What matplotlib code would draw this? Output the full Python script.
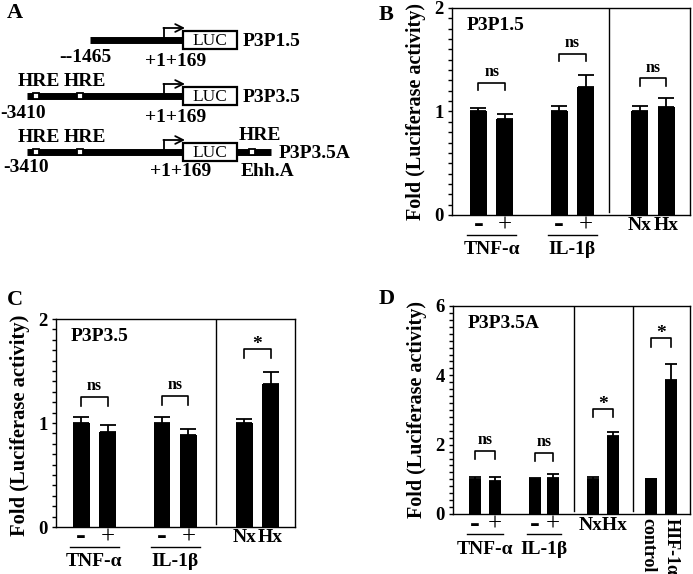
import matplotlib.pyplot as plt
from matplotlib.patches import Rectangle

plt.rcParams['font.family'] = ['Liberation Serif', 'DejaVu Serif']
plt.rcParams['font.weight'] = 'bold'

# ---- panel A: reporter constructs ----
constructs = ['P3P1.5', 'P3P3.5', 'P3P3.5A']
start_labels = ['--1465', '-3410', '-3410']
end_label = '+1+169'
n_hre = [0, 2, 2]

# ---- panel B: P3P1.5 ----
b_vals = [1.00, 0.93, 1.00, 1.24, 1.00, 1.04]
b_err = [0.03, 0.05, 0.05, 0.11, 0.05, 0.09]
b_sig = ['ns', 'ns', 'ns']
b_brk = [1.28, 1.56, 1.32]

# ---- panel C: P3P3.5 ----
c_vals = [1.00, 0.915, 1.00, 0.88, 1.00, 1.375]
c_err = [0.06, 0.065, 0.06, 0.06, 0.04, 0.115]
c_sig = ['ns', 'ns', '*']
c_brk = [1.25, 1.26, 1.71]

# ---- panel D: P3P3.5A ----
d_vals = [1.00, 0.96, 1.02, 1.05, 1.00, 2.26, 1.02, 3.87]
d_err = [0.06, 0.12, 0.02, 0.10, 0.06, 0.10, 0.0, 0.45]
d_sig = ['ns', 'ns', '*', '*']
d_brk = [1.83, 1.77, 3.03, 5.07]

treat_labels = ['-', '+']
groups = ['TNF-\u03b1', 'IL-1\u03b2']
hyp_labels = ['Nx', 'Hx']

W, H = 693, 574
fig = plt.figure(figsize=(W / 100, H / 100), dpi=100)


def px_axes(l, t, r, b):
    return fig.add_axes([l / W, 1 - b / H, (r - l) / W, (b - t) / H])


# panel A, drawn in pixel units
axA = px_axes(0, 0, 346, 200)
axA.set_xlim(0, 346)
axA.set_ylim(200, 0)
axA.axis('off')
row_y = [40, 96, 152]
line_start = [90, 27, 27]
name_x = [243, 243, 279]
box_l, box_r, tss = 183, 237, 164
for i, name in enumerate(constructs):
    y = row_y[i]
    axA.plot([line_start[i], box_l], [y, y], color='k', lw=5, solid_capstyle='butt', zorder=1)
    axA.add_patch(Rectangle((box_l, y - 9), box_r - box_l, 18, fc='white', ec='k', lw=1.6, zorder=3))
    axA.text((box_l + box_r) / 2, y + 1, 'LUC', ha='center', va='center', fontsize=12.5, fontweight='normal')
    axA.plot([tss, tss], [y - 3, y - 12], color='k', lw=1.3)
    axA.annotate('', xy=(box_l + 2, y - 12), xytext=(tss - 0.6, y - 12),
                 arrowprops=dict(arrowstyle='->', lw=1.3, color='k', shrinkA=0, shrinkB=0,
                                 mutation_scale=14))
    axA.text(name_x[i], y + 1, name, ha='left', va='center', fontsize=14)
    for k, hx in enumerate([36, 80][:n_hre[i]]):
        axA.add_patch(Rectangle((hx - 3, y - 3), 6, 6, fc='white', ec='k', lw=1.3, zorder=2))
        axA.text(hx + 3 + 2 * k, y - 15, 'HRE', ha='center', va='center', fontsize=14)
axA.text(85, 57, start_labels[0], ha='center', va='center', fontsize=14)
axA.text(23, 114, start_labels[1], ha='center', va='center', fontsize=14)
axA.text(26, 167, start_labels[2], ha='center', va='center', fontsize=14)
axA.text(176, 62, end_label, ha='center', va='center', fontsize=14)
axA.text(176, 117, end_label, ha='center', va='center', fontsize=14)
axA.text(181, 171, end_label, ha='center', va='center', fontsize=14)
# 3' enhancer on P3P3.5A
axA.plot([box_r, 271], [152, 152], color='k', lw=5, solid_capstyle='butt', zorder=1)
axA.add_patch(Rectangle((249, 149), 6, 6, fc='white', ec='k', lw=1.3, zorder=2))
axA.text(260, 136, 'HRE', ha='center', va='center', fontsize=14)
axA.text(268, 171, 'Ehh.A', ha='center', va='center', fontsize=14)
fig.text(7 / W, 1 - 13 / H, 'A', fontsize=16, va='center', ha='left')


def bar_panel(ax, pos, vals, err, width, cap, ymax, major, minor, seps, sig, brk, brk_drop, title,
              joined=False, ylab_size=14.5):
    ax.bar(pos, vals, width=width, color='black', zorder=2)
    ax.errorbar(pos, vals, yerr=[[0] * len(err), err], fmt='none', ecolor='black',
                elinewidth=1.3, capsize=cap, capthick=1.3, zorder=3)
    ax.set_ylim(0, ymax)
    ax.set_yticks(major)
    ax.set_yticks(minor, minor=True)
    ax.tick_params(axis='y', which='both', direction='out', length=3, width=1, labelsize=13.5, pad=3)
    ax.set_xticks([])
    for s in ax.spines.values():
        s.set_linewidth(1.0)
    for s in seps:
        ax.axvline(s, ymin=0.015, ymax=1, color='black', lw=1.0)
    for k, label in enumerate(sig):
        x1, x2 = pos[2 * k], pos[2 * k + 1]
        top = brk[k]
        ax.plot([x1, x1, x2, x2], [top - brk_drop, top, top, top - brk_drop], color='black', lw=1.2)
        ax.annotate(label, xy=((x1 + x2) / 2, top), xytext=(0, 2 if label == 'ns' else -3),
                    textcoords='offset points', ha='center', va='bottom',
                    fontsize=11.5 if label == 'ns' else 14)
    ax.text(0.06, 0.915, title, transform=ax.transAxes, ha='left', va='center', fontsize=14)
    ax.set_ylabel('Fold (Luciferase activity)', fontsize=ylab_size, fontweight='bold')
    tr = ax.get_xaxis_transform()
    for g in range(2):
        x1, x2 = pos[2 * g], pos[2 * g + 1]
        ax.text(x1, -10 / 208, treat_labels[0], transform=tr, ha='center', va='center', fontsize=21)
        ax.text(x2, -11 / 208, treat_labels[1], transform=tr, ha='center', va='center',
                fontsize=18, fontweight='normal')
        ax.plot([x1 - width / 2 - 0.1, x2 + width / 2 + 0.1], [-20 / 208, -20 / 208], transform=tr,
                color='black', lw=1.0, clip_on=False)
        ax.text((x1 + x2) / 2, -35 / 208, groups[g], transform=tr, ha='center', va='center', fontsize=14)
    if joined:
        ax.text((pos[4] + pos[5]) / 2, -11 / 208, ''.join(hyp_labels), transform=tr,
                ha='center', va='center', fontsize=14)
    else:
        for j in range(2):
            ax.text(pos[4 + j], -11 / 208, hyp_labels[j], transform=tr, ha='center', va='center',
                    fontsize=14)
    return tr


pos6a = [1.0, 2.0, 4.05, 5.05, 7.1, 8.1]
pos6b = [0.95, 1.95, 4.0, 5.0, 7.1, 8.1]
pos8 = [1.1, 2.1, 4.1, 5.0, 7.0, 8.0, 9.9, 10.9]

axB = px_axes(452, 8, 690, 215)
axB.set_xlim(0, 9.0)
bar_panel(axB, pos6a, b_vals, b_err, 0.64, 6, 2, [0, 1, 2], [i / 10 for i in range(21)],
          [5.92], b_sig, b_brk, 0.075, 'P3P1.5')
axB.yaxis.set_label_coords(-26 / 238, 0.5)
fig.text(379 / W, 1 - 15 / H, 'B', fontsize=16, va='center', ha='left')

axC = px_axes(56, 319, 295, 527)
axC.set_xlim(0, 9.02)
bar_panel(axC, pos6b, c_vals, c_err, 0.64, 6, 2, [0, 1, 2], [i / 10 for i in range(21)],
          [6.04], c_sig, c_brk, 0.085, 'P3P3.5', ylab_size=14.8)
axC.yaxis.set_label_coords(-26 / 239, 0.49)
fig.text(7 / W, 1 - 300 / H, 'C', fontsize=16, va='center', ha='left')

axD = px_axes(453, 306, 690, 514)
axD.set_xlim(0, 11.85)
trD = bar_panel(axD, pos8, d_vals, d_err, 0.62, 4.5, 6, [0, 2, 4, 6], [i / 5 for i in range(31)],
                [6.05, 9.0], d_sig, d_brk, 0.24, 'P3P3.5A', joined=True)
axD.yaxis.set_label_coords(-26 / 237, 0.5)
axD.text(pos8[6] - 0.15, -4 / 208, 'control', transform=trD, rotation=270, ha='center', va='top',
         fontsize=13)
axD.text(pos8[7], -4 / 208, 'HIF-1\u03b1', transform=trD, rotation=270, ha='center', va='top',
         fontsize=13)
fig.text(379 / W, 1 - 299 / H, 'D', fontsize=16, va='center', ha='left')

fig.savefig('out.png', dpi=100)
